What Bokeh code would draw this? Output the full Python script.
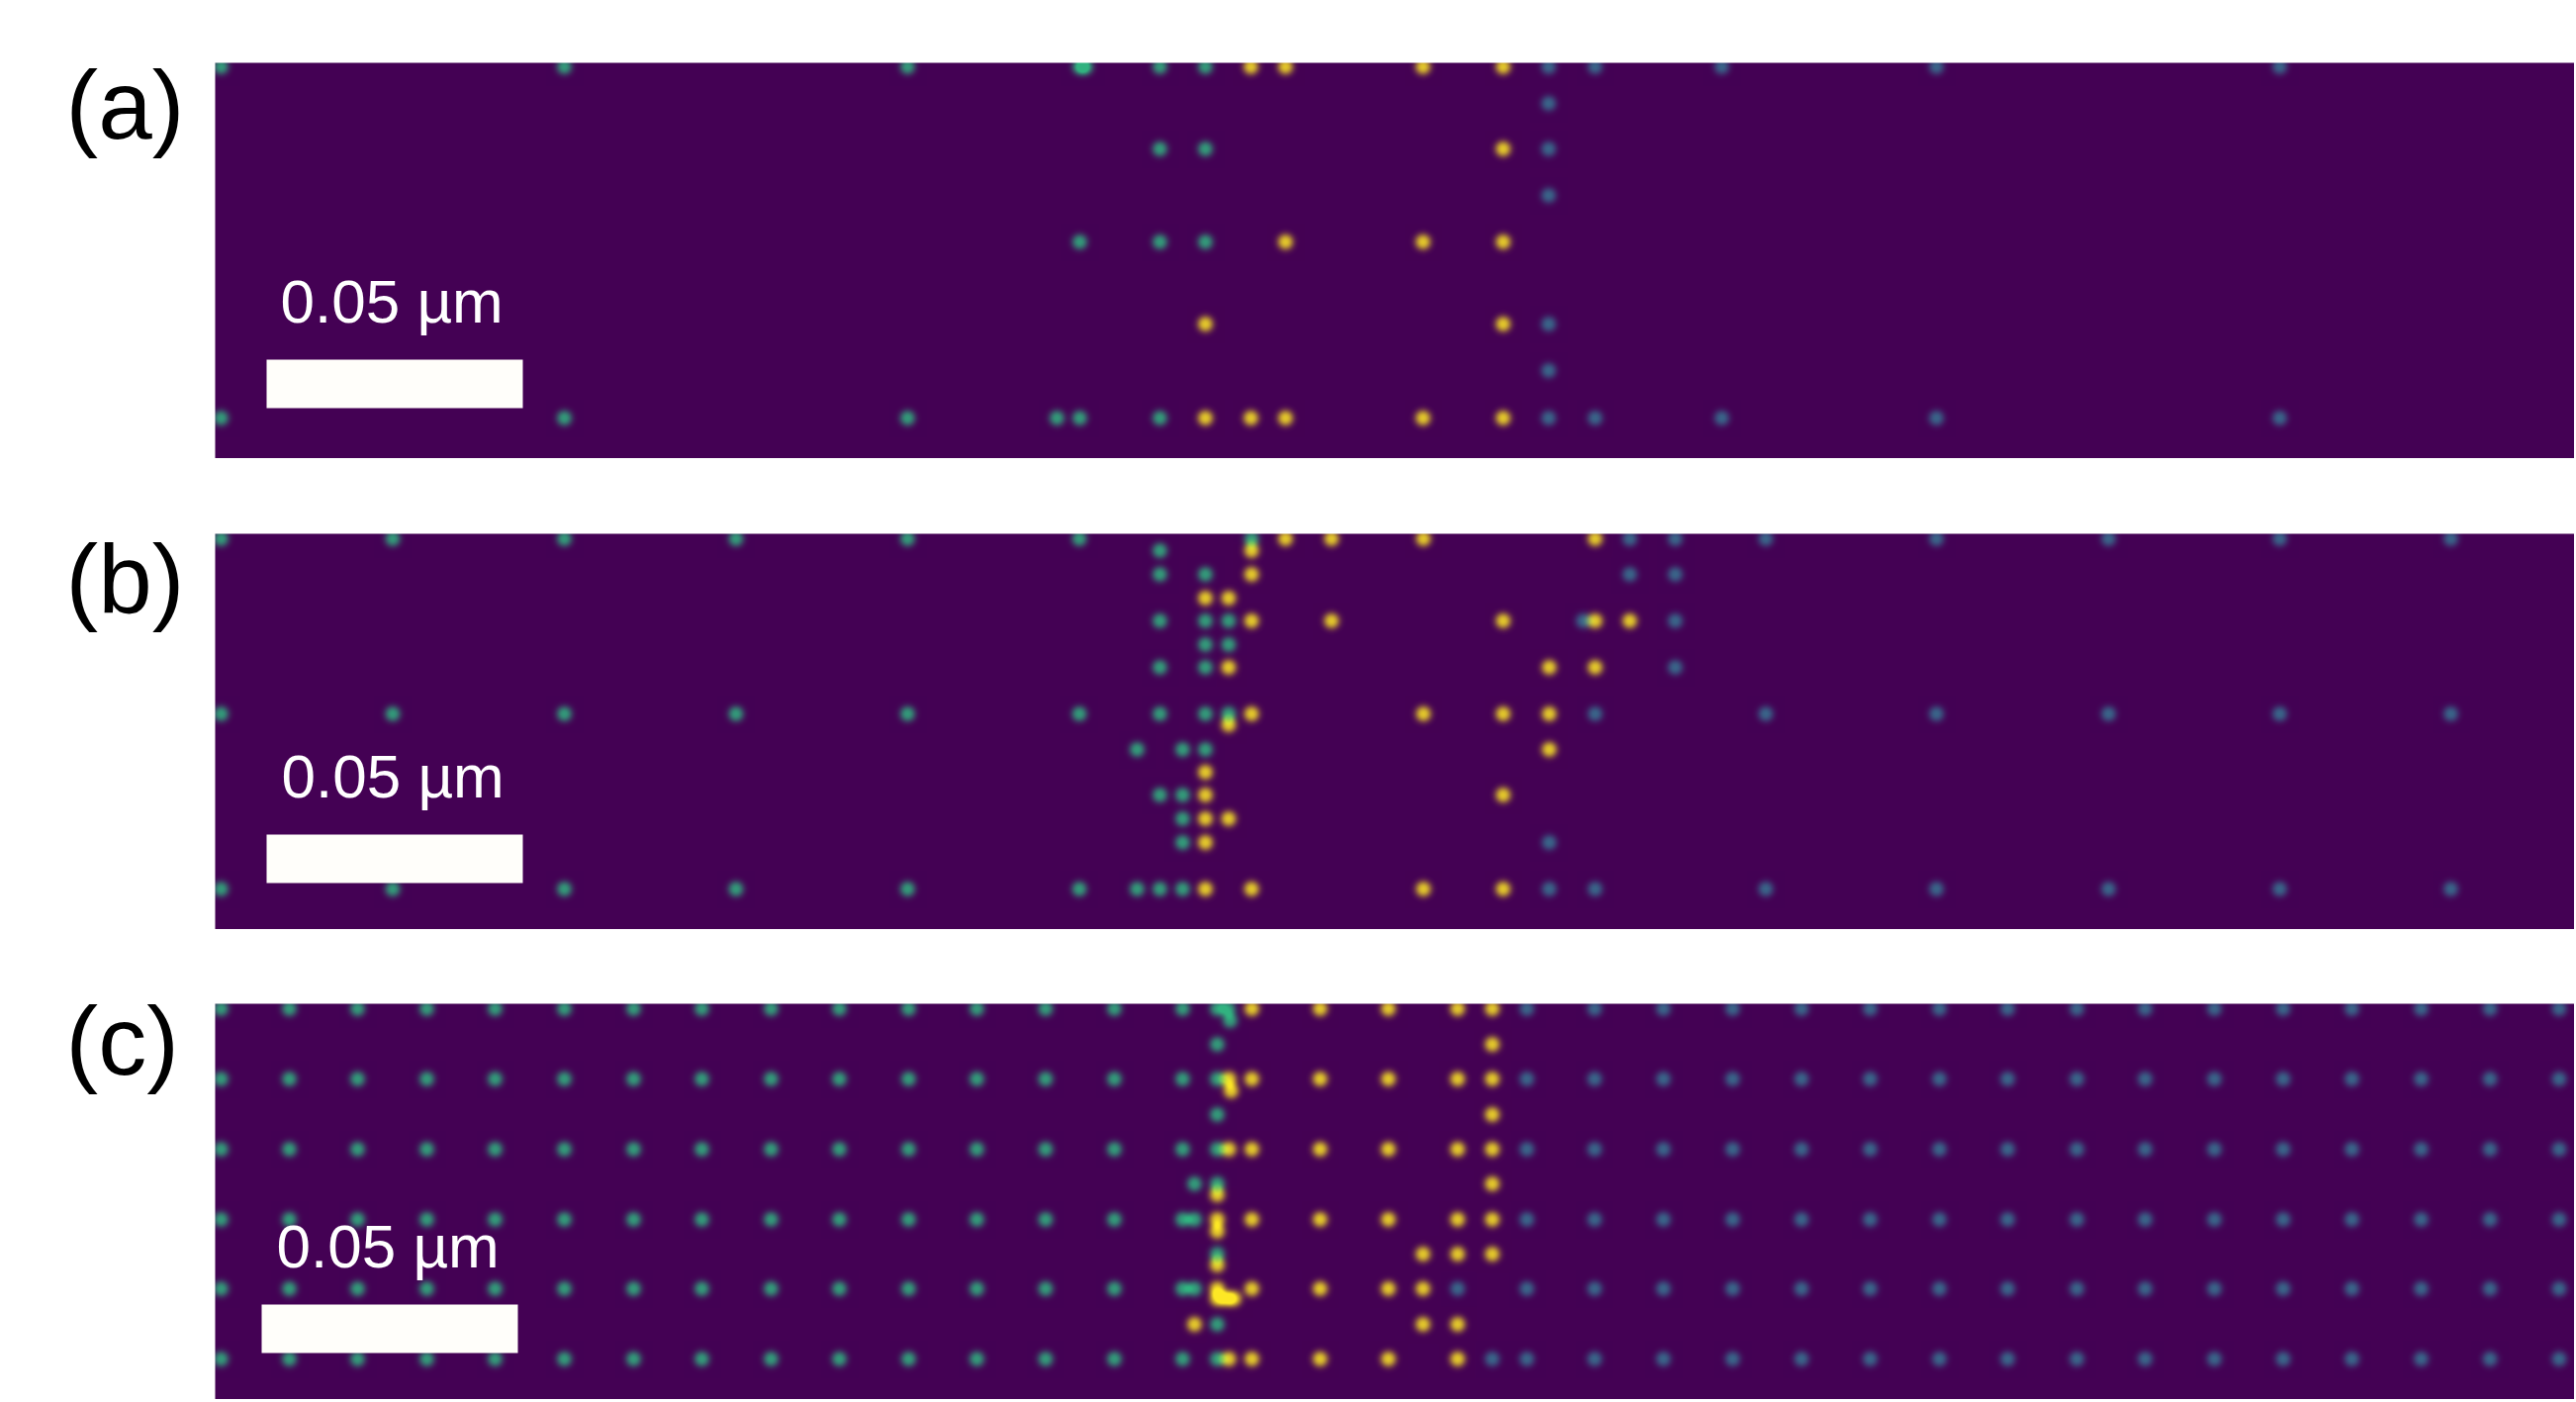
import numpy as np
from bokeh.core.properties import value
from bokeh.embed import file_html
from bokeh.layouts import column
from bokeh.models import Range1d
from bokeh.plotting import figure
from bokeh.resources import INLINE

a_rows = [4, 41, 87, 134, 181, 264, 311, 359]
a_green = [[6, 353, 700, 874, 880, 955, 1001], [], [955, 1001], [], [874, 955, 1001], [], [],
           [6, 353, 700, 851, 874, 955]]
a_yellow = [[1047, 1082, 1221, 1302], [], [1302], [], [1082, 1221, 1302], [1001, 1302], [],
            [1001, 1047, 1082, 1221, 1302]]
a_blue = [[1348, 1395, 1523, 1740, 2087], [1348], [1348], [1348], [], [1348], [1348],
          [1348, 1395, 1523, 1740, 2087]]

b_rows = [5, 17, 41, 65, 88, 112, 135, 182, 193, 218, 241, 264, 288, 312, 359]
b_green = [[6, 179.5, 353, 526.5, 700, 873.6, 1047.7], [955], [955, 1001], [], [955, 1001, 1024.5],
           [1001, 1024.5], [955, 1001], [6, 179.5, 353, 526.5, 700, 873.6, 955, 1001, 1024.5], [],
           [932, 978, 1001], [], [955, 978], [978], [978],
           [6, 179.5, 353, 526.5, 700, 873.6, 932, 955, 978]]
b_yellow = [[1082, 1128.5, 1221.4, 1395], [1047.7], [1047.7], [1001, 1024.5],
            [1047.7, 1128.5, 1302, 1395, 1430], [], [1024.5, 1348.6, 1395],
            [1047.7, 1221.4, 1302, 1348.6], [1024.5], [1348.6], [1001], [1001, 1302],
            [1001, 1024.5], [1001], [1001, 1047.7, 1221.4, 1302]]
b_blue = [[1430, 1476, 1567.5, 1740, 1914, 2087, 2260], [], [1430, 1476], [], [1383, 1476], [], [1476],
          [1395, 1567.5, 1740, 1914, 2087, 2260], [], [], [], [], [], [1348.6],
          [1348.6, 1395, 1567.5, 1740, 1914, 2087, 2260]]

c_left = [6, 75, 144, 214, 283, 353, 423, 492, 562, 631, 701, 770, 839.5, 909, 978]
c_right = [1326, 1394.5, 1464, 1534, 1603.6, 1673, 1743, 1812, 1882, 1951, 2021, 2090.5, 2160, 2230,
           2299.6, 2369.5]
c_rows = [5, 17, 41, 76, 88, 112, 147, 182, 193, 218, 230, 253, 264, 288, 298, 324, 359]
c_green = [c_left + [1013, 1024], [1026], [1013], c_left + [1013], [], [1013], c_left + [1013],
           [990, 1013], [], c_left + [990], [], [1013], [], c_left + [990], [], [1013], c_left + [1013]]
c_yellow = [[1048, 1117, 1186, 1256, 1291], [], [1291], [1024.7, 1048, 1117, 1186, 1256, 1291], [1027],
            [1291], [1024.7, 1048, 1117, 1186, 1256, 1291], [1291], [1013],
            [1013, 1048, 1117, 1186, 1256, 1291], [1013], [1221, 1256, 1291], [1013],
            [1013, 1048, 1117, 1186, 1221], [1013, 1022, 1030], [990, 1221, 1256],
            [1024.7, 1048, 1117, 1186, 1256]]
c_blue = [c_right, [], [], c_right, [], [], c_right, [], [], c_right, [], [], [], [1256] + c_right, [], [],
          [1291] + c_right]

panel_labels = ["(a)", "(b)", "(c)"]
scale_text = "0.05 µm"

BG = np.array([0x44, 0x01, 0x54], float)
COLORS = [np.array([0x31, 0xB2, 0x80], float),   # green
          np.array([0xFD, 0xE7, 0x25], float),   # yellow
          np.array([0x39, 0x74, 0x92], float)]   # blue
W, H = 2385, 400
LEFT = 217
SPOT = 8.0
PEAK = 0.85


def rasterize(rows, classes):
    masks = [np.zeros((H, W)) for _ in classes]
    for mask, per_row in zip(masks, classes):
        for y, xs in zip(rows, per_row):
            for x in xs:
                x0, x1 = max(int(x) - 18, 0), min(int(x) + 19, W)
                y0, y1 = max(int(y) - 18, 0), min(int(y) + 19, H)
                gx = np.arange(x0, x1) + 0.5 - x
                gy = np.arange(y0, y1) + 0.5 - y
                r = np.sqrt(gx[None, :] ** 2 + gy[:, None] ** 2)
                mask[y0:y1, x0:x1] += PEAK * np.exp(-(r / SPOT) ** 2.5)
    masks = [np.clip(m, 0, 1) for m in masks]
    total = sum(masks)
    scale = np.where(total > 1, 1 / np.maximum(total, 1e-9), 1.0)
    masks = [m * scale for m in masks]
    total = sum(masks)
    rgb = BG[None, None, :] * (1 - total)[:, :, None]
    for m, c in zip(masks, COLORS):
        rgb = rgb + m[:, :, None] * c[None, None, :]
    rgb = np.clip(rgb, 0, 255).astype(np.uint32)
    out = (255 << 24) | (rgb[:, :, 2] << 16) | (rgb[:, :, 1] << 8) | rgb[:, :, 0]
    return np.flipud(out.astype(np.uint32))


def panel(rows, classes, label, label_x, label_y, bar, text_x, text_y, height):
    p = figure(width=LEFT + W, height=height, output_backend="svg", toolbar_location=None,
               x_range=Range1d(-LEFT, W), y_range=Range1d(0, height),
               x_axis_location=None, y_axis_location=None,
               min_border=0, outline_line_color=None,
               background_fill_color="white", border_fill_color="white")
    p.grid.visible = False
    p.image_rgba(image=[rasterize(rows, classes)], x=0, y=0, dw=W, dh=H)
    p.quad(left=[bar[0]], right=[bar[1]], top=[H - bar[2]], bottom=[H - bar[3]],
           fill_color="#FFFEFA", line_color=None)
    p.text(x=[text_x], y=[H - text_y], text=[scale_text], text_color="white",
           text_font=value("Liberation Sans"), text_font_size="62px",
           text_baseline="alphabetic", text_align="left")
    p.text(x=[label_x], y=[H - label_y], text=[label], text_color="black",
           text_font=value("Liberation Sans"), text_font_size="98px",
           text_baseline="alphabetic", text_align="left")
    return p


p1 = panel(a_rows, [a_green, a_yellow, a_blue], panel_labels[0], -151, 42,
           (52, 311, 300, 349), 66, 241, 463)
p2 = panel(b_rows, [b_green, b_yellow, b_blue], panel_labels[1], -151, 45,
           (52, 311, 304, 353), 67, 245, 476)
p3 = panel(c_rows, [c_green, c_yellow, c_blue], panel_labels[2], -151, 37,
           (47, 306, 304, 353), 62, 245, 475)

layout = column(p1, p2, p3, spacing=0)
open("out.html", "w").write(file_html(layout, INLINE))
